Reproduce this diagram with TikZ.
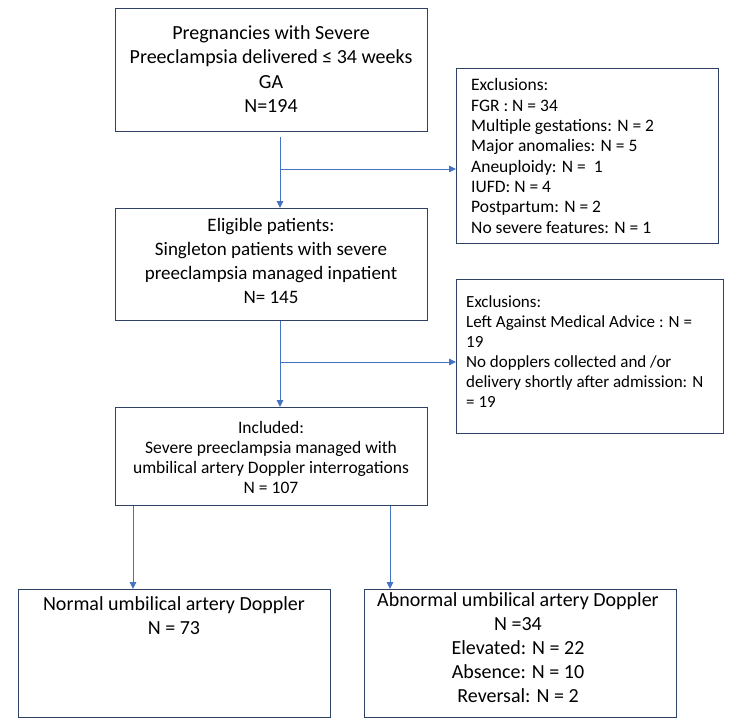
\documentclass[tikz,border=0pt]{standalone}
\usepackage{fontspec}
\setmainfont{Carlito}
\usetikzlibrary{arrows.meta,calc}
\begin{document}
\definecolor{boxcol}{HTML}{2F4266}
\definecolor{linecol}{HTML}{4472C4}
\tikzset{
  box/.style={draw=boxcol, line width=1.3pt, fill=white, rectangle, inner sep=0pt, anchor=north west},
  conn/.style={draw=linecol, line width=0.9pt, -{Triangle[length=7pt,width=6.5pt]}},
  bigtxt/.style={font=\fontsize{19}{24}\selectfont, align=center, inner sep=0pt},
  toptxt/.style={font=\fontsize{20}{24.2}\selectfont, align=center, inner sep=0pt},
  bottxt/.style={font=\fontsize{20}{24}\selectfont, align=center, inner sep=0pt, anchor=north},
  midtxt/.style={font=\fontsize{17.5}{20}\selectfont, align=center, inner sep=0pt},
  exctxt/.style={font=\fontsize{17.5}{20.3}\selectfont, align=left, inner sep=0pt, anchor=west},
  exctxtb/.style={font=\fontsize{17}{20}\selectfont, align=left, inner sep=0pt, anchor=west},
}
\begin{tikzpicture}[x=1pt,y=-1pt]
\useasboundingbox (0,0) rectangle (750,725);
% boxes
\node[box, minimum width=312pt, minimum height=123pt] (b1) at (115,8) {};
\node[toptxt] (t1) at (271,69) {Pregnancies with Severe\\Preeclampsia delivered ≤ 34 weeks\\GA\\N=194};
\node[box, minimum width=262pt, minimum height=175pt] (e1) at (456,68) {};
\node[exctxt] (te1) at (471,156) {Exclusions:\\FGR : N = 34\\Multiple gestations: N = 2\\Major anomalies: N = 5\\Aneuploidy: N =\ \ 1\\IUFD: N = 4\\Postpartum: N = 2\\No severe features: N = 1};
\node[box, minimum width=312pt, minimum height=112pt] (b2) at (115,208) {};
\node[bigtxt] (t2) at (271,261) {Eligible patients:\\Singleton patients with severe\\preeclampsia managed inpatient\\N= 145};
\node[box, minimum width=267pt, minimum height=154pt] (e2) at (456,279) {};
\node[exctxtb] (te2) at (466,352) {Exclusions:\\Left Against Medical Advice : N =\\19\\No dopplers collected and /or\\delivery shortly after admission: N\\= 19};
\node[box, minimum width=312pt, minimum height=98pt] (b3) at (115,407) {};
\node[midtxt] (t3) at (271,457) {Included:\\Severe preeclampsia managed with\\umbilical artery Doppler interrogations\\N = 107};
\node[box, minimum width=312pt, minimum height=128pt] (b4) at (18,589) {};
\node[bottxt] (t4) at (174,596) {Normal umbilical artery Doppler\\N = 73};
\node[box, minimum width=312pt, minimum height=128pt] (b5) at (364,589) {};
\node[bottxt] (t5) at (518,592) {Abnormal umbilical artery Doppler\\N =34\\Elevated: N = 22\\Absence: N = 10\\Reversal: N = 2};
% connectors
\coordinate (s1) at (280,137);
\coordinate (j1) at (280,169);
\coordinate (j2) at (280,362);
\draw[conn] (s1) -- (b2.north -| s1);
\draw[conn] (j1) -- (e1.west |- j1);
\draw[conn] (b2.south -| j2) -- (b3.north -| j2);
\draw[conn] (j2) -- (e2.west |- j2);
\coordinate (d1) at (133,505);
\coordinate (d2) at (390,505);
\draw[conn] (b3.south -| d1) -- (b4.north -| d1);
\draw[conn] (b3.south -| d2) -- (b5.north -| d2);
\end{tikzpicture}
\end{document}
